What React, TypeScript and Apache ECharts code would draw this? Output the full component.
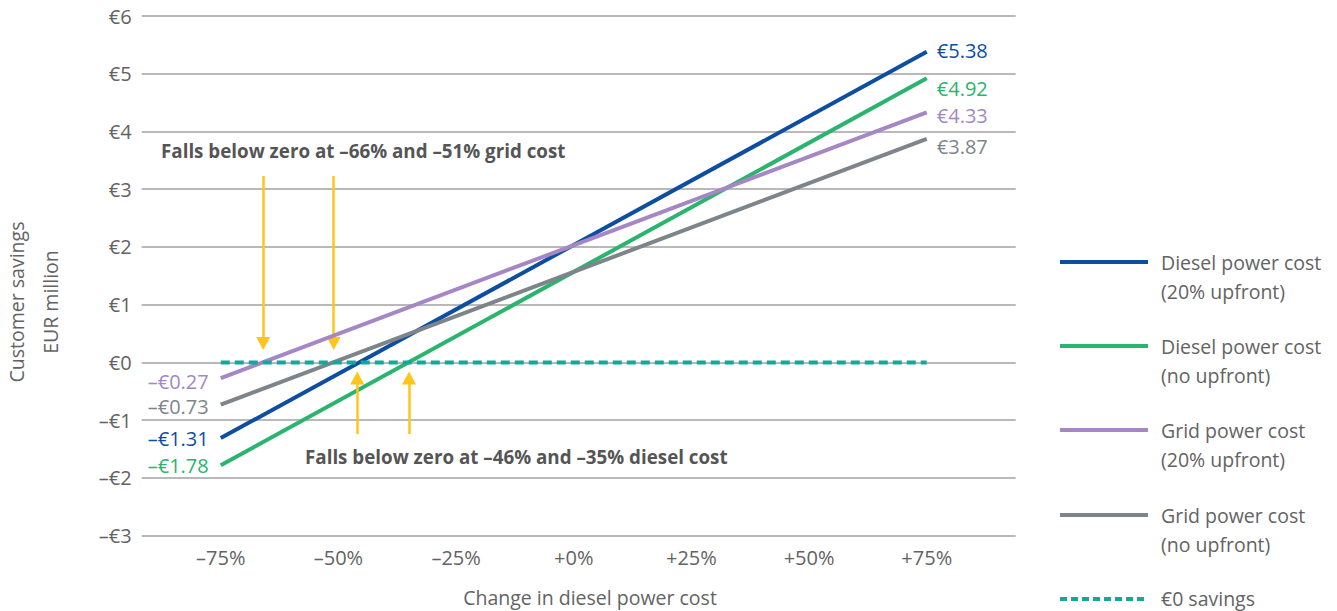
import { useEffect, useRef } from 'react';
import * as echarts from 'echarts';

// Change in diesel power cost (%), ends of each sensitivity line
const X_ENDS = [-75, 75];
const X_TICKS = [-75, -50, -25, 0, 25, 50, 75];
const Y_MIN = -3;
const Y_MAX = 6;

// Customer savings, EUR million, at -75% and +75%
const DIESEL_UPFRONT = [-1.31, 5.38];
const DIESEL_NO_UPFRONT = [-1.78, 4.92];
const GRID_UPFRONT = [-0.27, 4.33];
const GRID_NO_UPFRONT = [-0.73, 3.87];
const ZERO_SAVINGS = [0, 0];

// Break-even points called out with arrows
const GRID_BREAK_EVEN = [-66, -51];
const DIESEL_BREAK_EVEN = [-46, -35];

const SERIES_NAMES = [
  'Diesel power cost\n(20% upfront)',
  'Diesel power cost\n(no upfront)',
  'Grid power cost\n(20% upfront)',
  'Grid power cost\n(no upfront)',
];
const ZERO_NAME = '€0 savings';

const FONT = '"Open Sans", "Noto Sans", sans-serif';
const TEXT = '#636363';
const GRID_LINE = '#b9b9b9';
const ARROW = '#ffc51a';

const LINE_STYLES = [
  { color: '#0d4ea1', leftDy: 0, rightDy: -1 },
  { color: '#2bb46e', leftDy: 0.5, rightDy: 10 },
  { color: '#a487c4', leftDy: 3, rightDy: 3 },
  { color: '#7d858a', leftDy: 1.5, rightDy: 7.5 },
];
const ZERO_COLOR = '#13a89b';

const DASH = '\u2013';
const euro = (v: number, digits: number) =>
  (v < 0 ? DASH : '') + '€' + Math.abs(v).toFixed(digits);
const pct = (v: number) =>
  (v < 0 ? DASH : '+') + Math.abs(v) + '%';

export default function App() {
  const ref = useRef<HTMLDivElement>(null);

  useEffect(() => {
    if (!ref.current) return;
    const chart = echarts.init(ref.current, null, { renderer: 'svg' });

    const seriesValues = [DIESEL_UPFRONT, DIESEL_NO_UPFRONT, GRID_UPFRONT, GRID_NO_UPFRONT];

    const lineSeries = seriesValues.map((vals, i) => {
      const st = LINE_STYLES[i];
      return {
        type: 'line',
        name: SERIES_NAMES[i],
        symbol: 'circle',
        symbolSize: 0.1,
        showSymbol: true,
        silent: true,
        z: 3 + i,
        lineStyle: { color: st.color, width: 4, cap: 'butt' },
        itemStyle: { color: st.color },
        label: {
          show: true,
          color: st.color,
          fontFamily: FONT,
          fontSize: 20,
          lineHeight: 20,
          formatter: (p: any) => euro(p.value[1], 2),
        },
        data: [
          {
            value: [X_ENDS[0], vals[0]],
            label: { position: 'left', distance: 12, offset: [0, st.leftDy] },
          },
          {
            value: [X_ENDS[1], vals[1]],
            label: { position: 'right', distance: 10, offset: [0, st.rightDy] },
          },
        ],
      };
    });

    const arrowLine = (x: number, from: number, to: number) => [
      { coord: [x, from] },
      { coord: [x, to] },
    ];

    const zeroSeries = {
      type: 'line',
      name: ZERO_NAME,
      symbol: 'none',
      silent: true,
      z: 10,
      lineStyle: { color: ZERO_COLOR, width: 4, type: [9, 5] },
      data: [
        [X_ENDS[0], ZERO_SAVINGS[0]],
        [X_ENDS[1], ZERO_SAVINGS[1]],
      ],
      markLine: {
        silent: true,
        symbol: ['none', 'triangle'],
        symbolSize: [14, 13],
        label: { show: false },
        lineStyle: { color: ARROW, width: 2.5, type: 'solid' },
        data: [
          ...GRID_BREAK_EVEN.map((x) => arrowLine(x, 3.23, 0.33)),
          ...DIESEL_BREAK_EVEN.map((x) => arrowLine(x, -1.24, -0.27)),
        ],
      },
    };

    const legendY = [262, 346, 430, 515];
    const legendItems: any[] = [];
    SERIES_NAMES.forEach((name, i) => {
      legendItems.push({
        type: 'line',
        shape: { x1: 1060, y1: legendY[i], x2: 1148, y2: legendY[i] },
        style: { stroke: LINE_STYLES[i].color, lineWidth: 4 },
      });
      legendItems.push({
        type: 'text',
        x: 1161,
        y: legendY[i] - 14.5,
        style: {
          text: name,
          font: `19.5px ${FONT}`,
          fill: TEXT,
          lineHeight: 29,
          align: 'left',
          verticalAlign: 'top',
        },
      });
    });
    legendItems.push({
      type: 'line',
      shape: { x1: 1060, y1: 599, x2: 1148, y2: 599 },
      style: { stroke: ZERO_COLOR, lineWidth: 4, lineDash: [7, 4] },
    });
    legendItems.push({
      type: 'text',
      x: 1161,
      y: 598,
      style: {
        text: ZERO_NAME,
        font: `19.5px ${FONT}`,
        fill: TEXT,
        align: 'left',
        verticalAlign: 'middle',
      },
    });

    chart.setOption({
      animation: false,
      backgroundColor: '#ffffff',
      grid: { left: 141.7, right: 321.3, top: 16, bottom: 75.3, containLabel: false },
      xAxis: {
        type: 'value',
        min: -91.8,
        max: 93.9,
        axisLine: { show: false },
        axisTick: { show: false },
        splitLine: { show: false },
        axisLabel: {
          customValues: X_TICKS,
          formatter: (v: number) => pct(v),
          color: TEXT,
          fontFamily: FONT,
          fontSize: 20,
          margin: 12,
        },
      },
      yAxis: {
        type: 'value',
        min: Y_MIN,
        max: Y_MAX,
        interval: 1,
        axisLine: { show: false },
        axisTick: { show: false },
        splitLine: { lineStyle: { color: GRID_LINE, width: 2 } },
        axisLabel: {
          formatter: (v: number) => euro(v, 0),
          color: TEXT,
          fontFamily: FONT,
          fontSize: 20,
          margin: 10,
        },
      },
      series: [...lineSeries, zeroSeries],
      graphic: [
        {
          type: 'text',
          x: 33,
          y: 302,
          rotation: Math.PI / 2,
          style: {
            text: 'Customer savings\nEUR million',
            font: `19.5px ${FONT}`,
            fill: TEXT,
            lineHeight: 34,
            align: 'center',
            verticalAlign: 'middle',
          },
        },
        {
          type: 'text',
          x: 590,
          y: 597,
          style: {
            text: 'Change in diesel power cost',
            font: `19.5px ${FONT}`,
            fill: TEXT,
            align: 'center',
            verticalAlign: 'middle',
          },
        },
        {
          type: 'text',
          x: 161,
          y: 151,
          style: {
            text: `Falls below zero at ${DASH}${Math.abs(GRID_BREAK_EVEN[0])}% and ${DASH}${Math.abs(GRID_BREAK_EVEN[1])}% grid cost`,
            font: `bold 18.8px ${FONT}`,
            fill: '#555555',
            align: 'left',
            verticalAlign: 'middle',
          },
        },
        {
          type: 'text',
          x: 305,
          y: 457,
          style: {
            text: `Falls below zero at ${DASH}${Math.abs(DIESEL_BREAK_EVEN[0])}% and ${DASH}${Math.abs(DIESEL_BREAK_EVEN[1])}% diesel cost`,
            font: `bold 18.8px ${FONT}`,
            fill: '#555555',
            align: 'left',
            verticalAlign: 'middle',
          },
        },
        ...legendItems,
      ],
    });

    return () => chart.dispose();
  }, []);

  return (
    <div
      ref={ref}
      style={{ position: 'fixed', left: 0, top: 0, width: 1337, height: 611, background: '#fff' }}
    />
  );
}
